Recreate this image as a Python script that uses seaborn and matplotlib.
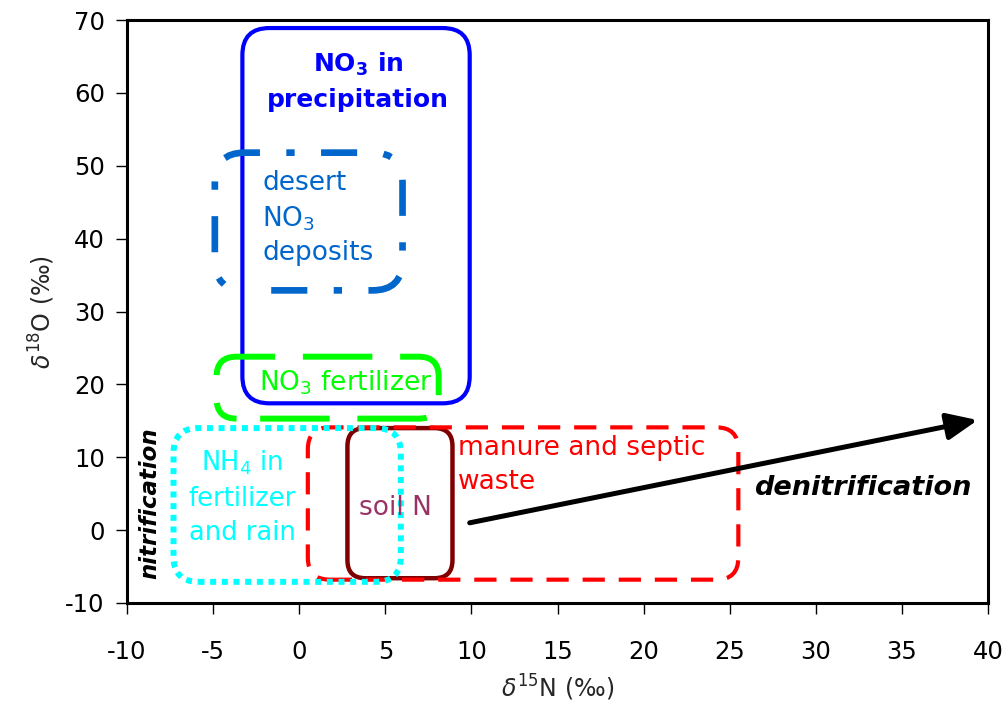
import matplotlib
matplotlib.use("Agg")
import matplotlib.pyplot as plt
import seaborn as sns
from matplotlib.patches import FancyBboxPatch

# source boxes (delta15N range, delta18O range)
sources = ["precipitation", "desert", "no3_fert", "soil", "manure", "nh4"]
x_lo = [-3.3, -4.9, -4.8, 2.8, 0.5, -7.3]
x_hi = [9.9, 6.0, 8.1, 8.9, 25.5, 5.9]
y_lo = [17.4, 32.9, 15.3, -6.6, -6.8, -7.1]
y_hi = [68.9, 51.8, 23.8, 14.0, 14.1, 14.0]
edge_colors = ["#0000FF", "#0066CC", "#00FF00", "#800000", "#FF0000", "#00FFFF"]

# denitrification arrow
arrow_x = [9.9, 39.4]
arrow_y = [1.0, 15.1]

x_ticks = list(range(-10, 41, 5))
y_ticks = list(range(-10, 71, 10))

sns.set_theme(style="ticks")
plt.rcParams["font.family"] = ["DejaVu Sans"]
plt.rcParams["mathtext.fontset"] = "dejavusans"
plt.rcParams["lines.scale_dashes"] = False
plt.rcParams["axes.unicode_minus"] = False

fig = plt.figure(figsize=(10.04, 7.05), dpi=100)
ax = fig.add_axes([0.1265, 0.1447, 0.8576, 0.8269])
ax.set_xlim(-10, 40)
ax.set_ylim(-10, 70)

# px per data unit in x and y, used to keep corners circular
px_per_x = 0.8576 * 1004 / 50
aspect = px_per_x / (0.8269 * 705 / 80)

styles = {
    "precipitation": dict(lw=3.0, ls="-", r=27),
    "desert": dict(lw=4.8, ls=(51, (26, 19, 6, 19)), r=30),
    "no3_fert": dict(lw=4.3, ls=(53, (50, 20)), r=20),
    "soil": dict(lw=3.2, ls="-", r=18),
    "manure": dict(lw=3.0, ls=(0, (16, 10)), r=22),
    "nh4": dict(lw=4.3, ls=(0, (4.3, 4.1)), r=25),
}

for i, name in enumerate(sources):
    st = styles[name]
    box = FancyBboxPatch(
        (x_lo[i], y_lo[i]), x_hi[i] - x_lo[i], y_hi[i] - y_lo[i],
        boxstyle=f"round,pad=0,rounding_size={st['r'] / px_per_x:.3f}",
        mutation_aspect=aspect,
        facecolor="none", edgecolor=edge_colors[i],
        linewidth=st["lw"], linestyle=st["ls"], capstyle="butt",
        zorder=2 + i,
    )
    ax.add_patch(box)

ax.annotate("", xy=(arrow_x[1], arrow_y[1]), xytext=(arrow_x[0], arrow_y[0]),
            arrowprops=dict(arrowstyle="-|>,head_length=0.62,head_width=0.27",
                            color="black", lw=3.6,
                            mutation_scale=30, shrinkA=0, shrinkB=0),
            zorder=10)

ax.text(3.4, 61.6, "NO$_\\mathbf{3}$ in\nprecipitation", color="#0000FF",
        fontsize=18, fontweight="bold", ha="center", va="center",
        linespacing=1.5, zorder=12)
ax.text(-2.15, 42.8, "desert\nNO$_3$\ndeposits", color="#0066CC",
        fontsize=19, ha="left", va="center", linespacing=1.38, zorder=12)
ax.text(2.7, 20.2, "NO$_3$ fertilizer", color="#00FF00",
        fontsize=19, ha="center", va="center", zorder=12)
ax.text(-3.3, 4.5, "NH$_4$ in\nfertilizer\nand rain", color="#00FFFF",
        fontsize=18.5, ha="center", va="center", linespacing=1.42, zorder=12)
ax.text(5.6, 3.0, "soil N", color="#993366",
        fontsize=19, ha="center", va="center", zorder=12)
ax.text(9.2, 8.9, "manure and septic\nwaste", color="#FF0000",
        fontsize=19, ha="left", va="center", linespacing=1.4, zorder=12)
ax.text(32.7, 5.8, "denitrification", color="black", fontsize=19.5,
        fontweight="bold", fontstyle="italic", ha="center", va="center",
        zorder=12)
ax.text(-8.66, 3.7, "nitrification", color="black", fontsize=16.5,
        fontweight="bold", fontstyle="italic", rotation=90,
        ha="center", va="center", zorder=12)

ax.set_xticks(x_ticks)
ax.set_yticks(y_ticks)
ax.tick_params(direction="out", length=8, width=1, labelsize=17.5,
               colors="black")
ax.tick_params(axis="x", pad=19)
ax.tick_params(axis="y", pad=8)
for s in ax.spines.values():
    s.set_linewidth(2.2)
    s.set_color("black")

ax.set_xlabel("$\\delta^{15}$N (‰)", fontsize=17, labelpad=6)
ax.set_ylabel("$\\delta^{18}$O (‰)", fontsize=17, labelpad=6)

fig.savefig("out.png", dpi=100)
